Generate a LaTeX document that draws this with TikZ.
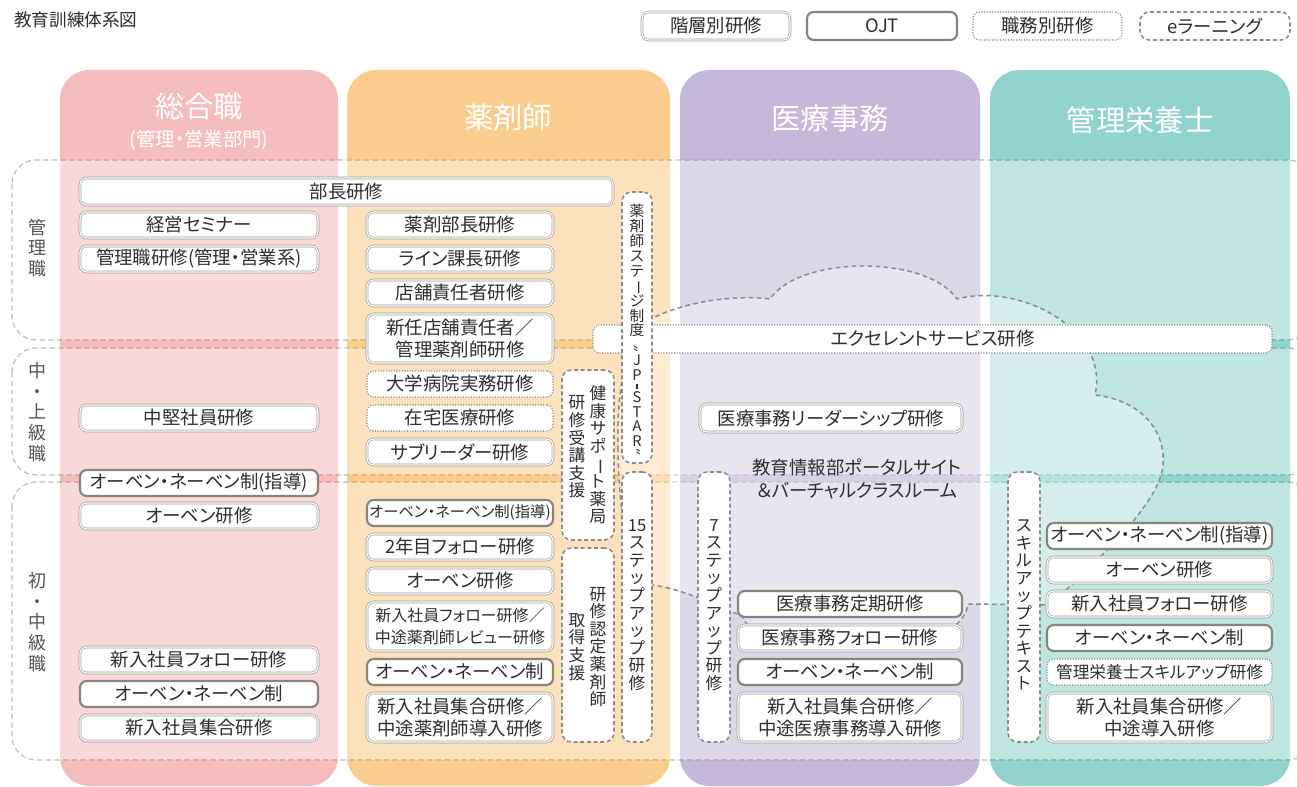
\documentclass[tikz,border=0pt]{standalone}
\usepackage{fontspec}
\usepackage{graphicx}
\setmainfont{Noto Sans CJK JP}[RawFeature=+palt]
\definecolor{pinkC}{HTML}{F6BDBE}
\definecolor{orangeC}{HTML}{FACD8E}
\definecolor{purpleC}{HTML}{C4B9DA}
\definecolor{tealC}{HTML}{92D3CD}
\definecolor{pinkD}{HTML}{E59A9C}
\definecolor{orangeD}{HTML}{EDB064}
\definecolor{purpleD}{HTML}{ADA2C6}
\definecolor{tealD}{HTML}{62BBB3}
\definecolor{bandc}{HTML}{BDBDBD}
\definecolor{txt}{HTML}{2E2E2E}
\definecolor{lblc}{HTML}{555555}
\definecolor{lvlc}{HTML}{9C9C94}
\definecolor{ojtc}{HTML}{85857A}
\definecolor{jobc}{HTML}{8E8E8E}
\definecolor{elc}{HTML}{8C8C8C}
\definecolor{cloudc}{HTML}{8A8A8A}
\newcommand\vbar{\rotatebox[origin=c]{-90}{ー}}
\newcommand\vhy{\rule{0.9pt}{3.5pt}}
\newcommand\bandpaths[1]{\draw[color=#1,line width=0.9pt,dash pattern=on 4pt off 2.5pt,rounded corners=18pt]
  (12,160) rectangle (1312,340) (12,348) rectangle (1312,475) (12,482) rectangle (1312,760);}
\begin{document}
\begin{tikzpicture}[x=0.75pt,y=-0.75pt,
 wh/.style 2 args={minimum width=#1*0.75pt,minimum height=#2*0.75pt,inner sep=0pt},
 bx/.style={fill=white,rounded corners=5pt,text=txt,align=center,font={\fontsize{13.8}{17}\selectfont}},
 lvl/.style={bx,draw=lvlc,double=white,double distance=0.9pt,line width=0.5pt},
 ojt/.style={bx,draw=ojtc,line width=1.6pt},
 job/.style={bx,draw=jobc,line width=1.2pt,line cap=round,dash pattern=on 0pt off 2pt},
 elr/.style={bx,draw=elc,line width=1.2pt,dash pattern=on 3pt off 2pt,rounded corners=7pt},
 fsm/.style={font={\fontsize{12}{16.5}\selectfont}},
 fmd/.style={font={\fontsize{12.5}{17}\selectfont}},
 vt/.style={text=txt,align=center,inner sep=0pt,font={\fontsize{12.5}{13.2}\selectfont\lineskiplimit=-50pt\lineskip=0pt}},
 jvt/.style={vt,font={\fontsize{11}{11.2}\selectfont\lineskiplimit=-50pt\lineskip=0pt}},
 lbl/.style={text=lblc,align=center,inner sep=0pt,font={\fontsize{13.5}{15.5}\selectfont}},
 hdr/.style={text=white,inner sep=0pt,font={\fontsize{22}{26}\selectfont}},
 hdrs/.style={text=white,inner sep=0pt,font={\fontsize{14.5}{17}\selectfont}},
 cloudst/.style={draw=cloudc,line width=1.1pt,dash pattern=on 3.5pt off 2.5pt,fill=white,fill opacity=0.35},
]
\useasboundingbox (0,0) rectangle (1297,787);
\clip (0,0) rectangle (1297,787);
\fill[white] (0,0) rectangle (1297,787);
% columns
\fill[pinkC,rounded corners=22pt] (60,70) rectangle (338,786);
\fill[orangeC,rounded corners=22pt] (347,70) rectangle (670,786);
\fill[purpleC,rounded corners=22pt] (680,70) rectangle (980,786);
\fill[tealC,rounded corners=22pt] (990,70) rectangle (1290,786);
\foreach \xa/\xb in {60/338,347/670,680/980,990/1290}{
  \foreach \ya/\yb in {160/340,348/475,482/760}{
    \fill[white,opacity=0.42] (\xa,\ya) rectangle (\xb,\yb);}}
% bands
\bandpaths{bandc}
\foreach \xa/\xb/\cc in {60/338/pinkD,347/670/orangeD,680/980/purpleD,990/1290/tealD}{
  \begin{scope}\clip (\xa,150) rectangle (\xb,770); \bandpaths{\cc}\end{scope}}
% headers
\node[hdr] (h1) at (199,106) {総合職};
\node[hdrs] (h1s) at (199,140) {(管理・営業部門)};
\node[hdr] (h2) at (508,117) {薬剤師};
\node[hdr] (h3) at (830,118) {医療事務};
\node[hdr] (h4) at (1140,120) {管理栄養士};
% left labels
\node[lbl] (l1) at (37,248) {管\\理\\職};
\node[lbl] (l2) at (37,412) {中\\・\\上\\級\\職};
\node[lbl] (l3) at (37,622) {初\\・\\中\\級\\職};
% cloud
\draw[cloudst] (618,450)
 .. controls (616,385) and (628,330) .. (655,317)
 .. controls (690,300) and (740,295) .. (770,299)
 .. controls (800,255) and (927,255) .. (957,299)
 .. controls (1020,282) and (1110,330) .. (1095,395)
 .. controls (1140,400) and (1166,430) .. (1163,465)
 .. controls (1160,505) and (1092,565) .. (1050,605)
 -- (968,604)
 .. controls (960,665) and (760,665) .. (742,616)
 .. controls (715,605) and (680,588) .. (652,585)
 .. controls (630,575) and (619,520) .. cycle;
\node[text=txt,align=center,inner sep=0pt,font={\fontsize{13.8}{17.5}\selectfont}] (portal) at (857,479) {教育情報部ポータルサイト\\＆バーチャルクラスルーム};
% title and legend
\node[anchor=west,text=txt,inner sep=0pt,font={\fontsize{13.2}{15}\selectfont}] (title) at (14,20) {教育訓練体系図};
\node[lvl,wh={148}{28}] (lg1) at (716,26) {階層別研修};
\node[ojt,wh={150}{28}] (lg2) at (882,26) {OJT};
\node[job,wh={149}{28}] (lg3) at (1047.5,26) {職務別研修};
\node[elr,wh={150}{28}] (lg4) at (1215,26) {eラーニング};
% excellent service (under the vertical box)
\node[job,wh={679}{28}] (ex) at (932.5,339) {エクセレントサービス研修};
% 総合職
\node[lvl,wh={533}{27}] (a0) at (346.5,191.5) {部長研修};
\node[lvl,wh={238}{26}] (a1) at (199,225) {経営セミナー};
\node[lvl,wh={238}{26}] (a2) at (199,259) {管理職研修(管理・営業系)};
\node[lvl,wh={238}{26}] (a3) at (199,418) {中堅社員研修};
\node[ojt,wh={238}{26}] (a4) at (199,483) {オーベン・ネーベン制(指導)};
\node[lvl,wh={238}{26}] (a5) at (199,516) {オーベン研修};
\node[lvl,wh={238}{26}] (a6) at (199,660) {新入社員フォロー研修};
\node[ojt,wh={238}{26}] (a7) at (199,694) {オーベン・ネーベン制};
\node[lvl,wh={238}{26}] (a8) at (199,728) {新入社員集合研修};
% 薬剤師
\node[lvl,wh={186}{26}] (b1) at (460,225) {薬剤部長研修};
\node[lvl,wh={186}{26}] (b2) at (460,259) {ライン課長研修};
\node[lvl,wh={186}{26}] (b3) at (460,293) {店舗責任者研修};
\node[lvl,wh={186}{49}] (b4) at (460,338.5) {新任店舗責任者／\\管理薬剤師研修};
\node[job,wh={186}{26}] (b5) at (460,384) {大学病院実務研修};
\node[job,wh={186}{26}] (b6) at (460,418) {在宅医療研修};
\node[lvl,wh={186}{26}] (b7) at (460,452) {サブリーダー研修};
\node[ojt,wh={186}{26},font={\fontsize{11.5}{14}\selectfont}] (b8) at (460,513) {オーベン・ネーベン制(指導)};
\node[lvl,wh={186}{26}] (b9) at (460,547) {2年目フォロー研修};
\node[lvl,wh={186}{26}] (b10) at (460,581) {オーベン研修};
\node[lvl,wh={186}{49},fsm] (b11) at (460,626.5) {新入社員フォロー研修／\\中途薬剤師レビュー研修};
\node[ojt,wh={186}{26}] (b12) at (460,672) {オーベン・ネーベン制};
\node[lvl,wh={186}{49}] (b13) at (460,717.5) {新入社員集合研修／\\中途薬剤師導入研修};
% vertical e-learning boxes
\node[elr,wh={52}{170}] (v1) at (588,455) {};
\node[vt] (v1a) at (598,455) {健\\康\\サ\\ポ\\\vbar\\ト\\薬\\局};
\node[vt] (v1b) at (577,447) {研\\修\\受\\講\\支\\援};
\node[elr,wh={52}{194}] (v2) at (588,645) {};
\node[vt] (v2a) at (598,647) {研\\修\\認\\定\\薬\\剤\\師};
\node[vt] (v2b) at (577,647) {取\\得\\支\\援};
\node[elr,wh={30}{271}] (v3) at (637,327.5) {};
\node[jvt] (v3a) at (637,333) {薬\\剤\\師\\ス\\テ\\\vbar\\ジ\\制\\度\\〟\\J\\P\\[-5.2pt]\vhy\\[-1.2pt]S\\T\\A\\R\\〝};
\node[elr,wh={30}{270}] (v4) at (637,607) {};
\node[vt] (v4a) at (637,605) {15\\ス\\テ\\ッ\\プ\\ア\\ッ\\プ\\研\\修};
\node[elr,wh={32}{270}] (v5) at (714,607) {};
\node[vt] (v5a) at (714,605) {7\\ス\\テ\\ッ\\プ\\ア\\ッ\\プ\\研\\修};
\node[elr,wh={32}{270}] (v6) at (1024,607) {};
\node[vt] (v6a) at (1024,605) {ス\\キ\\ル\\ア\\ッ\\プ\\テ\\キ\\ス\\ト};
% 医療事務
\node[lvl,wh={262}{28}] (c0) at (831,418) {医療事務リーダーシップ研修};
\node[ojt,wh={224}{26}] (c1) at (850,604) {医療事務定期研修};
\node[lvl,wh={224}{26}] (c2) at (850,638) {医療事務フォロー研修};
\node[ojt,wh={224}{26}] (c3) at (850,672) {オーベン・ネーベン制};
\node[lvl,wh={224}{49}] (c4) at (850,717.5) {新入社員集合研修／\\中途医療事務導入研修};
% 管理栄養士
\node[ojt,wh={225}{26}] (d1) at (1159.5,536) {オーベン・ネーベン制(指導)};
\node[lvl,wh={225}{26}] (d2) at (1159.5,570) {オーベン研修};
\node[lvl,wh={225}{26}] (d3) at (1159.5,604) {新入社員フォロー研修};
\node[ojt,wh={225}{26}] (d4) at (1159.5,638) {オーベン・ネーベン制};
\node[job,wh={225}{26},fmd] (d5) at (1159.5,672) {管理栄養士スキルアップ研修};
\node[lvl,wh={225}{49}] (d6) at (1159.5,717.5) {新入社員集合研修／\\中途導入研修};
\end{tikzpicture}
\end{document}
